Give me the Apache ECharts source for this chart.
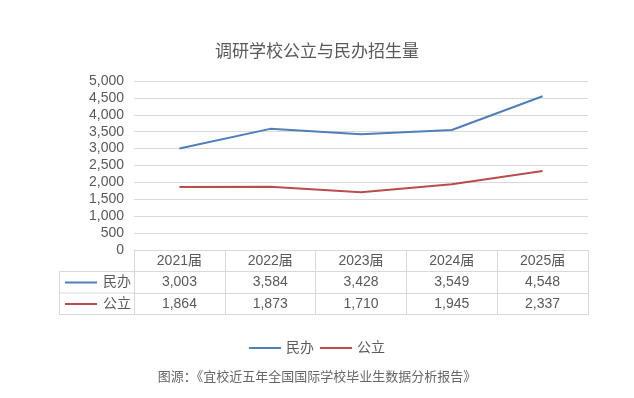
<!DOCTYPE html>
<html>
<head>
<meta charset="utf-8">
<script src="https://cdn.jsdelivr.net/npm/echarts@6/dist/echarts.min.js"></script>
<style>html,body{margin:0;padding:0;background:#fff;}#c{width:634px;height:398px;}</style>
</head>
<body>
<div id="c"></div>
<script>
var categories = ['2021届', '2022届', '2023届', '2024届', '2025届'];
var seriesNames = ['民办', '公立'];
var minban = [3003, 3584, 3428, 3549, 4548];
var gongli = [1864, 1873, 1710, 1945, 2337];
var yTicks = [0, 500, 1000, 1500, 2000, 2500, 3000, 3500, 4000, 4500, 5000];
var titleText = '调研学校公立与民办招生量';
var sourceText = '图源：《宜校近五年全国国际学校毕业生数据分析报告》';

var COLORS = ['#4f7fb8', '#b94d4d'];
var GRID = '#d9d9d9';
var TXT = '#595959';
var FONT = '"Liberation Sans", "Noto Sans CJK SC", sans-serif';
function fmt(v) { return v.toLocaleString('en-US'); }

var chart = echarts.init(document.getElementById('c'));
var tableRows = [minban, gongli];

var xAxes = [{
  type: 'category', data: categories, position: 'bottom', gridIndex: 0,
  boundaryGap: true,
  axisLine: { show: true, lineStyle: { color: GRID, width: 1 } },
  axisTick: { show: true, length: 65, interval: 0, lineStyle: { color: GRID, width: 1 } },
  axisLabel: { margin: 11, verticalAlign: 'middle', fontSize: 14, color: TXT, fontFamily: FONT, interval: 0 }
}];
tableRows.forEach(function (row, r) {
  xAxes.push({
    type: 'category', data: categories, position: 'bottom', gridIndex: 0,
    offset: 21.5 * (r + 1),
    axisLine: { show: true, lineStyle: { color: GRID, width: 1 } },
    axisTick: { show: false },
    axisLabel: { margin: 11, verticalAlign: 'middle', fontSize: 14, color: TXT, fontFamily: FONT, interval: 0,
      formatter: function (v, i) { return fmt(row[i]); } }
  });
});
xAxes.push({
  type: 'category', data: categories, position: 'bottom', gridIndex: 0, offset: 64.5,
  axisLine: { show: true, lineStyle: { color: GRID, width: 1 } },
  axisTick: { show: false }, axisLabel: { show: false }
});

var graphics = [];
var L = 59.5, R = 134;
[271.5, 293, 314.5].forEach(function (y) {
  graphics.push({ type: 'line', shape: { x1: L, y1: y, x2: R, y2: y }, style: { stroke: GRID, lineWidth: 1 } });
});
graphics.push({ type: 'line', shape: { x1: L, y1: 271.5, x2: L, y2: 314.5 }, style: { stroke: GRID, lineWidth: 1 } });
seriesNames.forEach(function (n, i) {
  var yc = 282.5 + 21.5 * i;
  graphics.push({ type: 'line', shape: { x1: 65, y1: yc, x2: 97, y2: yc }, style: { stroke: COLORS[i], lineWidth: 2 } });
  graphics.push({ type: 'text', x: 131, y: yc, style: { text: n, fill: TXT, fontSize: 14, fontFamily: FONT, align: 'right', verticalAlign: 'middle' } });
});

chart.setOption({
  animation: false,
  backgroundColor: '#fff',
  title: [
    { text: titleText, left: 'center', top: 39, textStyle: { fontSize: 17, fontWeight: 'normal', color: TXT, fontFamily: FONT } },
    { text: sourceText, left: 'center', top: 366, textStyle: { fontSize: 13, fontWeight: 'normal', color: '#666', fontFamily: FONT } }
  ],
  legend: {
    data: seriesNames, left: 'center', top: 336, icon: 'rect', itemWidth: 32, itemHeight: 2, itemGap: 6,
    textStyle: { fontSize: 14, color: TXT, fontFamily: FONT }
  },
  grid: { left: 134, right: 46, top: 81, bottom: 148, containLabel: false },
  xAxis: xAxes,
  yAxis: {
    type: 'value', min: yTicks[0], max: yTicks[yTicks.length - 1], interval: yTicks[1] - yTicks[0],
    axisLine: { show: false }, axisTick: { show: false },
    splitLine: { lineStyle: { color: GRID, width: 1 } },
    axisLabel: { margin: 10, fontSize: 14, color: TXT, fontFamily: FONT, formatter: function (v) { return fmt(v); } }
  },
  series: [
    { name: seriesNames[0], type: 'line', data: minban, xAxisIndex: 0, symbol: 'none', lineStyle: { color: COLORS[0], width: 2 }, itemStyle: { color: COLORS[0] } },
    { name: seriesNames[1], type: 'line', data: gongli, xAxisIndex: 0, symbol: 'none', lineStyle: { color: COLORS[1], width: 2 }, itemStyle: { color: COLORS[1] } }
  ],
  graphic: graphics
});
</script>
</body>
</html>
